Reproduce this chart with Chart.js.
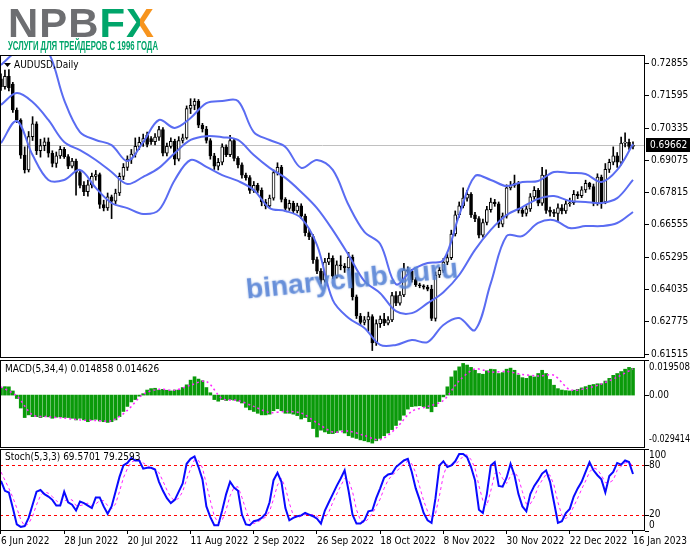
<!DOCTYPE html>
<html><head><meta charset="utf-8">
<script src="https://cdn.jsdelivr.net/npm/chart.js@4.4.0/dist/chart.umd.min.js"></script>
<style>
html,body{margin:0;padding:0;background:#fff;}
body{width:691px;height:549px;position:relative;overflow:hidden;}
canvas{position:absolute;left:0;}
#logo{position:absolute;left:8px;top:3px;font-family:'Liberation Sans',Arial,sans-serif;font-weight:bold;font-size:40px;line-height:40px;white-space:nowrap;letter-spacing:1px;transform-origin:left top;}
#logo .x{background:linear-gradient(90deg,#00a56a 0 48%,#f7941d 48% 100%);-webkit-background-clip:text;background-clip:text;color:transparent;}
#slogan{position:absolute;left:8px;top:40px;font-family:'Liberation Sans Narrow','Liberation Sans',sans-serif;font-weight:bold;font-size:12px;line-height:13px;color:#00a56a;white-space:nowrap;transform-origin:left top;}
#wm{position:absolute;left:352px;top:279px;font-family:'Liberation Sans',Arial,sans-serif;font-weight:bold;font-size:28px;line-height:30px;color:rgba(88,132,214,0.82);text-shadow:0 0 2px rgba(88,132,214,0.5);white-space:nowrap;z-index:5;}
</style></head><body>
<div id="logo"><span style="color:#6d6e71">NPB</span><span style="color:#00a56a">F</span><span class="x">X</span></div>
<div id="slogan">УСЛУГИ ДЛЯ ТРЕЙДЕРОВ С 1996 ГОДА</div>
<canvas id="cMain" width="691" height="303" style="top:55px"></canvas>
<canvas id="cMacd" width="691" height="88" style="top:360px"></canvas>
<canvas id="cStoch" width="691" height="100" style="top:449px"></canvas>
<div id="wm">binaryclub.guru</div>
<script>
// ---------------- DATA ----------------
const symbolTitle = 'AUDUSD,Daily';
const macdTitle = 'MACD(5,34,4) 0.014858 0.014626';
const stochTitle = 'Stoch(5,3,3) 69.5701 79.2593';

const opens = [
.7226,.7195,.7235,.7205,.7104,.7065,.6928,.6870,.7000,.7050,
.6945,.6965,.6980,.6935,.6895,.6925,.6950,.6922,.6885,.6905,
.6860,.6810,.6785,.6812,.6845,.6852,.6735,.6722,.6765,.6748,
.6780,.6845,.6880,.6912,.6932,.6962,.6978,.7005,.6992,.6980,
.6998,.7028,.6935,.6962,.6982,.6912,.6985,.6995,.7110,.7122,
.7138,.7045,.7030,.6985,.6925,.6885,.6900,.6960,.6930,.6985,
.6915,.6890,.6850,.6840,.6790,.6810,.6790,.6745,.6730,.6760,
.6860,.6880,.6755,.6720,.6740,.6710,.6730,.6690,.6625,.6610,
.6520,.6475,.6440,.6510,.6525,.6455,.6500,.6495,.6488,.6530,
.6375,.6300,.6275,.6285,.6298,.6195,.6270,.6288,.6272,.6285,
.6380,.6350,.6382,.6480,.6475,.6442,.6422,.6418,.6412,.6405,
.6290,.6460,.6478,.6510,.6528,.6620,.6695,.6730,.6760,.6775,
.6695,.6680,.6615,.6665,.6715,.6745,.6738,.6658,.6690,.6800,
.6810,.6818,.6712,.6700,.6718,.6765,.6790,.6740,.6850,.6712,
.6705,.6700,.6722,.6710,.6738,.6742,.6775,.6770,.6792,.6818,
.6805,.6740,.6842,.6745,.6872,.6900,.6925,.6900,.6975,.6978,
.6962];
const highs = [
.7245,.7260,.7262,.7212,.7112,.7070,.6960,.7020,.7078,.7058,
.6990,.6995,.6995,.6945,.6940,.6962,.6958,.6930,.6915,.6912,
.6868,.6825,.6830,.6858,.6868,.6858,.6752,.6780,.6772,.6795,
.6858,.6895,.6925,.6950,.6995,.6998,.7010,.7018,.7000,.7012,
.7040,.7035,.6975,.6995,.6990,.7000,.7010,.7120,.7148,.7148,
.7145,.7052,.7040,.6992,.6935,.6915,.6972,.6968,.7005,.6992,
.6922,.6898,.6858,.6848,.6825,.6818,.6800,.6755,.6772,.6870,
.6898,.6888,.6762,.6752,.6748,.6740,.6738,.6698,.6640,.6618,
.6530,.6485,.6525,.6545,.6535,.6515,.6535,.6505,.6548,.6538,
.6382,.6310,.6298,.6315,.6305,.6285,.6300,.6310,.6298,.6392,
.6395,.6395,.6505,.6492,.6482,.6450,.6428,.6422,.6420,.6420,
.6472,.6490,.6525,.6545,.6635,.6710,.6745,.6800,.6790,.6782,
.6705,.6688,.6678,.6728,.6760,.6755,.6745,.6702,.6812,.6825,
.6850,.6825,.6722,.6730,.6778,.6805,.6798,.6880,.6870,.6725,
.6715,.6738,.6735,.6750,.6760,.6790,.6785,.6805,.6830,.6822,
.6815,.6855,.6850,.6895,.6912,.6960,.6938,.6998,.7015,.6990,
.6980];
const lows = [
.7180,.7185,.7178,.7095,.7055,.6915,.6858,.6862,.6985,.6930,
.6920,.6945,.6920,.6882,.6880,.6915,.6915,.6875,.6878,.6772,
.6800,.6770,.6768,.6800,.6830,.6720,.6710,.6712,.6680,.6738,
.6770,.6832,.6868,.6895,.6920,.6950,.6962,.6960,.6970,.6968,
.6985,.6925,.6925,.6955,.6890,.6905,.6975,.6990,.7090,.7105,
.7035,.7018,.6975,.6912,.6872,.6870,.6890,.6922,.6922,.6905,
.6878,.6838,.6830,.6778,.6782,.6780,.6730,.6718,.6722,.6752,
.6850,.6745,.6708,.6712,.6700,.6702,.6680,.6612,.6598,.6505,
.6465,.6425,.6432,.6500,.6445,.6448,.6480,.6470,.6478,.6362,
.6290,.6262,.6265,.6240,.6165,.6185,.6255,.6262,.6265,.6278,
.6340,.6342,.6375,.6462,.6432,.6415,.6410,.6405,.6398,.6282,
.6280,.6450,.6470,.6500,.6520,.6612,.6685,.6722,.6748,.6685,
.6668,.6605,.6608,.6655,.6705,.6728,.6645,.6648,.6682,.6792,
.6802,.6702,.6688,.6690,.6708,.6755,.6730,.6732,.6700,.6690,
.6688,.6668,.6698,.6700,.6728,.6735,.6758,.6762,.6782,.6795,
.6730,.6732,.6720,.6738,.6860,.6890,.6880,.6890,.6960,.6950,
.6952];
const closes = [
.7195,.7235,.7190,.7104,.7065,.6928,.6870,.7000,.7050,.6945,
.6965,.6980,.6935,.6895,.6925,.6950,.6922,.6885,.6905,.6860,
.6810,.6785,.6812,.6845,.6852,.6735,.6722,.6765,.6748,.6780,
.6845,.6880,.6912,.6932,.6962,.6978,.6992,.6970,.6980,.6998,
.7028,.6935,.6962,.6982,.6912,.6985,.6995,.7110,.7122,.7138,
.7045,.7030,.6985,.6925,.6885,.6900,.6960,.6930,.6985,.6915,
.6890,.6850,.6840,.6790,.6810,.6790,.6745,.6730,.6760,.6860,
.6880,.6755,.6720,.6740,.6710,.6730,.6690,.6625,.6610,.6520,
.6475,.6440,.6510,.6525,.6455,.6500,.6495,.6488,.6530,.6375,
.6300,.6275,.6285,.6298,.6195,.6270,.6288,.6272,.6285,.6380,
.6350,.6382,.6480,.6475,.6442,.6422,.6418,.6412,.6405,.6290,
.6460,.6478,.6510,.6528,.6620,.6695,.6730,.6760,.6775,.6695,
.6680,.6615,.6665,.6715,.6745,.6738,.6658,.6690,.6800,.6810,
.6818,.6712,.6700,.6718,.6765,.6790,.6740,.6850,.6712,.6705,
.6700,.6722,.6710,.6738,.6742,.6775,.6770,.6792,.6818,.6805,
.6740,.6842,.6745,.6872,.6900,.6925,.6900,.6975,.6978,.6962,
.69662];

// Bollinger bands read every 4th bar
const bandBars = [0,4,8,12,16,20,24,28,32,36,40,44,48,52,56,60,64,68,72,76,80,84,88,92,96,100,104,108,112,116,120,124,128,132,136,140,144,148,152,156,160];
const bbUpper = [.7280,.7335,.7370,.7330,.7143,.7018,.6987,.6967,.6905,.6979,.7065,.7034,.7073,.7131,.7139,.7139,.7018,.6987,.6960,.6878,.6909,.6870,.6733,.6628,.6581,.6424,.6479,.6507,.6518,.6694,.6846,.6831,.6807,.6823,.6827,.6862,.6858,.6854,.6823,.6870,.6971];
const bbMiddle = [.7124,.7170,.7135,.7065,.6979,.6947,.6909,.6862,.6815,.6843,.6878,.6936,.6987,.7002,.6998,.6987,.6928,.6878,.6839,.6784,.6721,.6635,.6538,.6436,.6389,.6319,.6311,.6350,.6393,.6460,.6558,.6636,.6694,.6725,.6757,.6768,.6749,.6745,.6741,.6760,.6831];
const bbLower = [.6975,.7061,.6928,.6831,.6831,.6870,.6800,.6741,.6721,.6698,.6714,.6831,.6909,.6882,.6850,.6827,.6792,.6721,.6710,.6682,.6577,.6362,.6292,.6253,.6187,.6187,.6206,.6198,.6265,.6292,.6245,.6428,.6612,.6612,.6663,.6674,.6643,.6651,.6651,.6663,.6706];

const macdHist = [
.0038,.0047,.0046,.0023,-.0019,-.0072,-.0125,-.0110,-.0120,-.0120,
-.0125,-.0120,-.0121,-.0129,-.0123,-.0121,-.0125,-.0125,-.0129,-.0138,
-.0129,-.0138,-.0148,-.0138,-.0135,-.0144,-.0148,-.0152,-.0148,-.0138,
-.0120,-.0091,-.0063,-.0038,-.0025,-.0006,.0008,.0028,.0036,.0038,
.0028,.0032,.0027,.0023,.0028,.0028,.0042,.0057,.0083,.0102,
.0089,.0080,.0042,.0013,-.0025,-.0034,-.0025,-.0030,-.0025,-.0028,
-.0034,-.0044,-.0068,-.0082,-.0091,-.0101,-.0110,-.0110,-.0106,-.0087,
-.0076,-.0087,-.0101,-.0101,-.0106,-.0114,-.0133,-.0125,-.0148,-.0186,
-.0233,-.0195,-.0205,-.0214,-.0214,-.0209,-.0195,-.0211,-.0226,-.0235,
-.0241,-.0249,-.0254,-.0260,-.0267,-.0254,-.0241,-.0226,-.0211,-.0192,
-.0169,-.0140,-.0112,-.0078,-.0064,-.0061,-.0059,-.0064,-.0074,-.0093,
-.0064,-.0036,-.0010,.0046,.0101,.0135,.0157,.0176,.0167,.0154,
.0138,.0120,.0116,.0135,.0144,.0142,.0120,.0125,.0144,.0150,
.0138,.0112,.0097,.0093,.0106,.0101,.0120,.0138,.0120,.0087,
.0055,.0036,.0028,.0025,.0023,.0027,.0032,.0040,.0047,.0055,
.0059,.0063,.0063,.0078,.0093,.0110,.0120,.0131,.0144,.0154,
.0149];
const macdSignal = [.0046,-.0005,-.0110,-.0120,-.0128,-.0138,-.0141,-.0142,-.0085,.0005,.0032,.0027,.0055,.0076,-.0020,-.0030,-.0063,-.0097,-.0091,-.0100,-.0155,-.0205,-.0200,-.0225,-.0248,-.0185,-.0090,-.0064,-.0030,.0080,.0145,.0128,.0131,.0115,.0106,.0110,.0030,.0036,.0062,.0100,.0146];
const macdMax = 0.019508, macdMin = -0.029414;

const stochK = [
61,49,47,28,8,5,6,16,32,48,
50,45,42,38,31,31,48,35,32,25,
36,34,31,28,41,41,30,21,30,48,
66,80,83,89,86,86,76,77,77,75,
60,49,40,34,38,48,58,82,88,91,
78,63,30,17,7,7,25,45,60,53,
49,20,8,7,12,13,16,21,35,62,
71,60,28,13,16,18,19,22,20,18,
15,9,25,35,45,55,64,74,49,20,
9,9,13,24,25,40,52,65,69,70,
78,82,86,88,72,52,38,22,13,10,
40,80,85,78,80,85,94,94,90,78,
62,26,22,45,80,84,55,54,65,82,
68,45,30,24,45,55,62,70,74,60,
35,10,12,22,27,42,52,60,72,84,
74,68,63,47,67,72,83,81,86,84,
69.57];
const stochD = [
72,62,52,41,28,14,6,9,18,32,
43,48,46,42,37,33,37,38,38,31,
31,32,34,31,33,37,37,31,27,33,
48,65,76,84,86,87,83,80,77,76,
71,61,50,41,37,40,48,63,76,87,
86,77,57,37,18,10,13,26,43,53,
54,41,26,12,9,11,14,17,24,39,
56,64,53,34,19,16,18,20,20,20,
18,14,16,23,35,45,55,64,62,48,
26,13,10,15,21,30,39,52,62,68,
72,77,82,85,82,71,54,37,24,15,
21,43,68,81,81,81,86,91,93,87,
77,55,37,31,49,70,73,64,58,67,
72,65,48,33,33,41,54,62,69,68,
56,35,19,15,20,30,40,51,61,72,
77,75,68,59,59,62,74,79,83,84,
79.26];
const stochLevels = [20, 80];
const stochAxisLabels = [100, 80, 20, 0];

const priceTicks = [0.61515,0.62775,0.64035,0.65295,0.66555,0.67815,0.69075,0.70335,0.71595,0.72855];
const dateTickBars = [0,16,32,48,64,80,96,112,128,144,160];
const dateLabels = ['6 Jun 2022','28 Jun 2022','20 Jul 2022','11 Aug 2022','2 Sep 2022','26 Sep 2022','18 Oct 2022','8 Nov 2022','30 Nov 2022','22 Dec 2022','16 Jan 2023'];

// ---------------- STYLE / LAYOUT ----------------
const X_MIN = -0.25, X_MAX = 163.04, AXIS_W = 46;
const PRICE_MIN = 0.61359, PRICE_MAX = 0.73187;
const BAND = '#5a6cf2';

function hasFont(f){const c=document.createElement('canvas').getContext('2d');const s='0.72855 abcXYZ';c.font='20px monospace';const a=c.measureText(s).width;c.font=`20px '${f}',monospace`;return Math.abs(c.measureText(s).width-a)>0.5;}
let FONT='sans-serif', FS=10;
for(const [f,s] of [['Liberation Sans Narrow',11],['DejaVu Sans Condensed',10],['Liberation Sans',10]]){ if(hasFont(f)){FONT=`'${f}',sans-serif`;FS=s;break;} }
const fontStr = () => `${FS}px ${FONT}`;

const idx = closes.map((_, i) => i);
const lastClose = closes[closes.length - 1];

const framePlugin = {id:'frame', afterDraw(ch){const {ctx,chartArea:a}=ch;ctx.save();ctx.strokeStyle='#000';ctx.lineWidth=1;ctx.strokeRect(a.left+0.5,a.top+0.5,a.right-a.left-1,a.bottom-a.top-1);ctx.restore();}};

function rightLabels(ch, items){
  const {ctx,chartArea:a}=ch; const ys=ch.scales.y;
  ctx.save(); ctx.fillStyle='#000'; ctx.strokeStyle='#000'; ctx.font=fontStr(); ctx.textBaseline='middle'; ctx.textAlign='left';
  for(const it of items){
    const py=ys.getPixelForValue(it.v);
    ctx.beginPath(); ctx.moveTo(a.right, Math.round(py)+0.5); ctx.lineTo(a.right+4, Math.round(py)+0.5); ctx.stroke();
    ctx.fillText(it.t, a.right+4, py+it.dy, 691-(a.right+4)-1);
  }
  ctx.restore();
}
function titleText(ch, text, x, y){const {ctx}=ch;ctx.save();ctx.fillStyle='#000';ctx.font=fontStr();ctx.textBaseline='middle';ctx.textAlign='left';ctx.fillText(text,x,y);ctx.restore();}

const hiddenX = () => ({type:'linear', min:X_MIN, max:X_MAX, offset:false, display:false});
const blankRightY = (min,max) => ({type:'linear', position:'right', min, max,
  ticks:{display:false}, grid:{display:false}, border:{display:false},
  afterFit:a=>{a.width=AXIS_W;a.paddingTop=0;a.paddingBottom=0;}});
const baseOpts = {responsive:false, maintainAspectRatio:false, animation:false, events:[],
  layout:{padding:0}, plugins:{legend:{display:false}, tooltip:{enabled:false}}};

// ---------------- MAIN PRICE PANEL ----------------
new Chart(document.getElementById('cMain'), {
  type:'bar',
  data:{datasets:[
    {type:'line', data:bandBars.map((b,i)=>({x:b,y:bbUpper[i]})), borderColor:BAND, borderWidth:2, pointRadius:0, tension:0.35, order:0, clip:0},
    {type:'line', data:bandBars.map((b,i)=>({x:b,y:bbMiddle[i]})), borderColor:BAND, borderWidth:2, pointRadius:0, tension:0.35, order:0, clip:0},
    {type:'line', data:bandBars.map((b,i)=>({x:b,y:bbLower[i]})), borderColor:BAND, borderWidth:2, pointRadius:0, tension:0.35, order:0, clip:0},
    {type:'bar', data:idx.map(i=>({x:i,y:[opens[i],closes[i]]})), grouped:false, barThickness:3, minBarLength:1,
      backgroundColor:idx.map(i=>closes[i]>=opens[i]?'#ffffff':'#000000'), borderColor:'#000', borderWidth:1, borderSkipped:false, order:1},
    {type:'bar', data:idx.map(i=>({x:i,y:[lows[i],highs[i]]})), grouped:false, barThickness:1, backgroundColor:'#000', borderWidth:0, order:2}
  ]},
  options:{...baseOpts,
    scales:{
      x:hiddenX(),
      y:{type:'linear', position:'right', min:PRICE_MIN, max:PRICE_MAX,
        afterBuildTicks:a=>{a.ticks=priceTicks.map(v=>({value:v}));},
        afterFit:a=>{a.width=AXIS_W;a.paddingTop=0;a.paddingBottom=0;},
        grid:{drawOnChartArea:false, drawTicks:true, tickLength:4, color:'#000'},
        border:{display:false},
        ticks:{padding:2, color:'#000', font:{family:FONT, size:FS}, callback:v=>Number(v).toFixed(5)}}
    }},
  plugins:[framePlugin, {id:'mainOverlay',
    beforeDatasetsDraw(ch){const {ctx,chartArea:a}=ch;const y=Math.round(ch.scales.y.getPixelForValue(lastClose))+0.5;
      ctx.save();ctx.strokeStyle='#c0c0c0';ctx.lineWidth=1;ctx.beginPath();ctx.moveTo(a.left,y);ctx.lineTo(a.right,y);ctx.stroke();ctx.restore();},
    afterDraw(ch){const {ctx,chartArea:a}=ch;const y=Math.round(ch.scales.y.getPixelForValue(lastClose));
      ctx.save();ctx.fillStyle='#000';ctx.fillRect(a.right+1,y-7,44,14);
      ctx.fillStyle='#fff';ctx.font=fontStr();ctx.textBaseline='middle';ctx.textAlign='left';ctx.fillText(lastClose.toFixed(5),a.right+5,y,40);
      ctx.fillStyle='#000';ctx.beginPath();ctx.moveTo(a.left+4,a.top+8);ctx.lineTo(a.left+11,a.top+8);ctx.lineTo(a.left+7.5,a.top+12);ctx.closePath();ctx.fill();
      ctx.restore();
      titleText(ch, symbolTitle, a.left+14, a.top+10);}
  }]
});

// ---------------- MACD PANEL ----------------
new Chart(document.getElementById('cMacd'), {
  type:'bar',
  data:{datasets:[
    {type:'line', data:bandBars.map((b,i)=>({x:b,y:macdSignal[i]})), borderColor:'#ff22ff', borderWidth:1.5, borderDash:[2,3], pointRadius:0, tension:0.3, order:0},
    {type:'bar', data:idx.map(i=>({x:i,y:macdHist[i]})), grouped:false, barThickness:3, backgroundColor:'#0a9a0a', borderWidth:0, order:1}
  ]},
  options:{...baseOpts, scales:{x:hiddenX(), y:blankRightY(macdMin, macdMax)}},
  plugins:[framePlugin, {id:'macdOverlay', afterDraw(ch){
    rightLabels(ch, [{v:macdMax,t:macdMax.toFixed(6),dy:7},{v:0,t:'0.00',dy:0},{v:macdMin,t:macdMin.toFixed(6),dy:-9}]);
    titleText(ch, macdTitle, ch.chartArea.left+5, ch.chartArea.top+9);}}]
});

// ---------------- STOCHASTIC PANEL ----------------
new Chart(document.getElementById('cStoch'), {
  type:'line',
  data:{datasets:[
    {data:idx.map(i=>({x:i,y:stochK[i]})), borderColor:'#0a0aff', borderWidth:2, pointRadius:0, tension:0, order:0},
    {data:idx.map(i=>({x:i,y:stochD[i]})), borderColor:'#ff22ff', borderWidth:1, borderDash:[3,3], pointRadius:0, tension:0, order:1}
  ]},
  options:{...baseOpts, scales:{
    x:{type:'linear', min:X_MIN, max:X_MAX, offset:false, position:'bottom',
      afterBuildTicks:a=>{a.ticks=dateTickBars.map(v=>({value:v}));},
      afterFit:a=>{a.height=18;a.paddingLeft=0;a.paddingRight=0;},
      grid:{drawOnChartArea:false, drawTicks:true, tickLength:3, color:'#000'},
      border:{display:false},
      ticks:{align:'start', padding:1, maxRotation:0, minRotation:0, autoSkip:false, color:'#000', font:{family:FONT, size:FS}, callback:(v,i)=>dateLabels[i]}},
    y:blankRightY(0,100)}},
  plugins:[framePlugin, {id:'stochOverlay',
    beforeDatasetsDraw(ch){const {ctx,chartArea:a}=ch;ctx.save();ctx.strokeStyle='#ff0000';ctx.lineWidth=1;ctx.setLineDash([3,3]);
      for(const lv of stochLevels){const y=Math.round(ch.scales.y.getPixelForValue(lv))+0.5;ctx.beginPath();ctx.moveTo(a.left,y);ctx.lineTo(a.right,y);ctx.stroke();}
      ctx.restore();},
    afterDraw(ch){
      rightLabels(ch, stochAxisLabels.map(v=>({v,t:String(v),dy:v===100?6:(v===0?-6:0)})));
      titleText(ch, stochTitle, ch.chartArea.left+5, ch.chartArea.top+8);}
  }]
});

// ---------------- logo / watermark fitting ----------------
function fitWidth(el, w, extra){const r=el.getBoundingClientRect();const s=w/r.width;el.style.transform=(extra||'')+` scaleX(${s})`;}
fitWidth(document.getElementById('logo'),147);
fitWidth(document.getElementById('slogan'),150);
const wm=document.getElementById('wm');const wr=wm.getBoundingClientRect();
wm.style.transformOrigin='center center';
wm.style.transform=`translate(-50%,-50%) rotate(-5.7deg) scaleX(${213/wr.width})`;
</script>
</body></html>
